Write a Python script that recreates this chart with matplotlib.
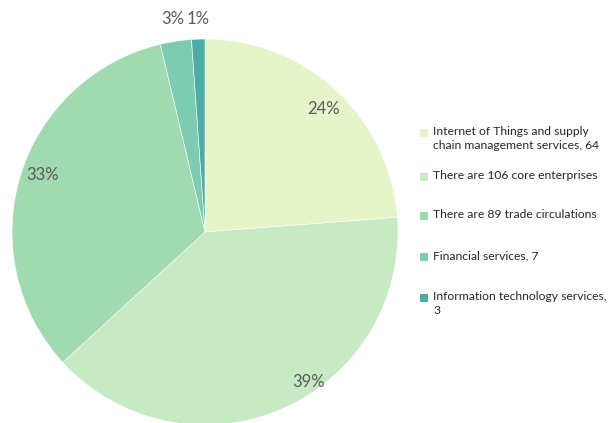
import matplotlib
matplotlib.use("Agg")
import matplotlib.pyplot as plt
from matplotlib.patches import Rectangle

labels = ["Internet of Things and supply\nchain management services, 64",
          "There are 106 core enterprises",
          "There are 89 trade circulations",
          "Financial services, 7",
          "Information technology services,\n3"]
values = [64, 106, 89, 7, 3]
colors = ["#E6F5C9", "#C7E9C4", "#A1D9B1", "#7DCBB1", "#4DADA4"]

W, H = 612, 423
fig = plt.figure(figsize=(W / 100, H / 100), dpi=100)
ax = fig.add_axes([0, 0, 1, 1])

cx, cy, r = 205, H - 232, 193
wedges, texts = ax.pie(values, colors=colors, startangle=90, counterclock=False,
                       center=(cx, cy), radius=r, frame=True,
                       wedgeprops=dict(edgecolor="white", linewidth=0.4))
ax.set_xlim(0, W)
ax.set_ylim(0, H)
ax.set_aspect("equal")
ax.axis("off")

total = sum(values)
pct = [f"{round(v / total * 100)}%" for v in values]
# label positions in pixel coordinates (x, y from top)
label_pos = [(324, 109), (309, 382), (43, 175), (173, 19), (198, 19)]
for p, (x, y) in zip(pct, label_pos):
    ax.text(x, H - y, p, ha="center", va="center", fontsize=12,
            color="#595959", family="Lato")

# legend
first_line_y = [133, 177, 216, 257, 298]
for lab, col, yl in zip(labels, colors, first_line_y):
    ax.add_patch(Rectangle((420, H - yl - 4), 8, 8, facecolor=col, edgecolor="none"))
    ax.text(433, H - yl + 7, lab, ha="left", va="top", fontsize=8.7,
            color="#262626", family="Lato", linespacing=1.3)

fig.savefig("out.png", dpi=100)
